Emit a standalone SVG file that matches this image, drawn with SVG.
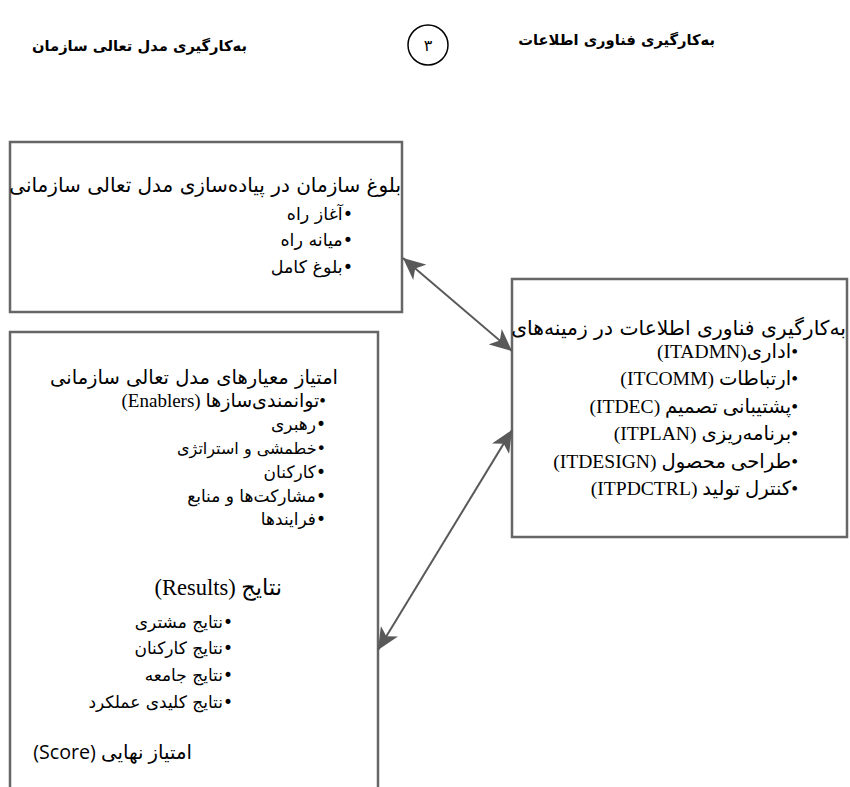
<svg xmlns="http://www.w3.org/2000/svg" width="850" height="787" viewBox="0 0 850 787">
<style>
.box{fill:#fff;stroke:#666;stroke-width:2.5}
.t{font-family:"DejaVu Sans",sans-serif;fill:#000;direction:rtl;text-anchor:start}
.b{font-size:17px}
.lat{font-family:"Liberation Serif","DejaVu Sans",serif}
.it{font-size:19.6px}
.ttl{font-family:"DejaVu Sans",sans-serif;font-weight:bold;font-size:14.7px;direction:rtl;text-anchor:start}
.con{stroke:#595959;stroke-width:2;fill:none;marker-start:url(#ah);marker-end:url(#ah)}
</style>
<defs>
<marker id="ah" viewBox="0 0 22 20" refX="22" refY="10" markerWidth="22" markerHeight="20" markerUnits="userSpaceOnUse" orient="auto-start-reverse">
<path d="M0,0 L22,10 L0,20 L6,10 Z" fill="#595959"/>
</marker>
</defs>
<rect width="850" height="787" fill="#fff"/>
<g id="header">
<text class="ttl" x="247" y="51">به‌کارگیری مدل تعالی سازمان</text>
<ellipse cx="428" cy="45" rx="20" ry="20" fill="none" stroke="#000" stroke-width="1.5"/>
<text x="428" y="51" font-family="DejaVu Sans,sans-serif" font-size="16" text-anchor="middle">۳</text>
<text class="ttl" x="715" y="45">به‌کارگیری فناوری اطلاعات</text>
</g>
<g id="node-maturity">
<rect class="box" x="10" y="142" width="392" height="170"/>
<text class="t" x="401" y="192" font-size="20">بلوغ سازمان در پیاده‌سازی مدل تعالی سازمانی</text>
<text class="t" x="353" y="220" font-size="17.5">•آغاز راه</text>
<text class="t" x="353" y="246" font-size="17.5">•میانه راه</text>
<text class="t" x="353" y="273" font-size="17.5">•بلوغ کامل</text>
</g>
<g id="node-score">
<rect class="box" x="10" y="332" width="368" height="500"/>
<text class="t" x="338" y="384" font-size="19.5">امتیاز معیارهای مدل تعالی سازمانی</text>
<text class="t lat" x="326" y="407" font-size="19">•توانمندی‌سازها (Enablers)</text>
<text class="t b" x="326" y="430">•رهبری</text>
<text class="t" x="326" y="454" font-size="16">•خطمشی و استراتژی</text>
<text class="t b" x="326" y="478">•کارکنان</text>
<text class="t b" x="326" y="502">•مشارکت‌ها و منابع</text>
<text class="t b" x="326" y="525">•فرایندها</text>
<text class="t lat" x="282" y="595" font-size="22.5">نتایج (Results)</text>
<text class="t b" x="233" y="628">•نتایج مشتری</text>
<text class="t b" x="233" y="654">•نتایج کارکنان</text>
<text class="t b" x="233" y="681">•نتایج جامعه</text>
<text class="t b" x="233" y="708">•نتایج کلیدی عملکرد</text>
<text class="t" x="192" y="759" font-size="19.7" style="font-family:'Open Sans','DejaVu Sans',sans-serif">امتیاز نهایی (Score)</text>
</g>
<g id="node-it">
<rect class="box" x="512" y="279" width="335" height="258"/>
<text class="t" x="846" y="335" font-size="20.3">به‌کارگیری فناوری اطلاعات در زمینه‌های</text>
<text class="t lat it" x="798" y="358">•اداری(ITADMN)</text>
<text class="t lat it" x="798" y="385">•ارتباطات (ITCOMM)</text>
<text class="t lat it" x="798" y="413">•پشتیبانی تصمیم (ITDEC)</text>
<text class="t lat it" x="798" y="440">•برنامه‌ریزی (ITPLAN)</text>
<text class="t lat it" x="798" y="468">•طراحی محصول (ITDESIGN)</text>
<text class="t lat it" x="798" y="495">•کنترل تولید (ITPDCTRL)</text>
</g>
<g id="connectors">
<line class="con" x1="403" y1="258" x2="512" y2="351"/>
<line class="con" x1="512" y1="430" x2="378" y2="650"/>
</g>
</svg>
